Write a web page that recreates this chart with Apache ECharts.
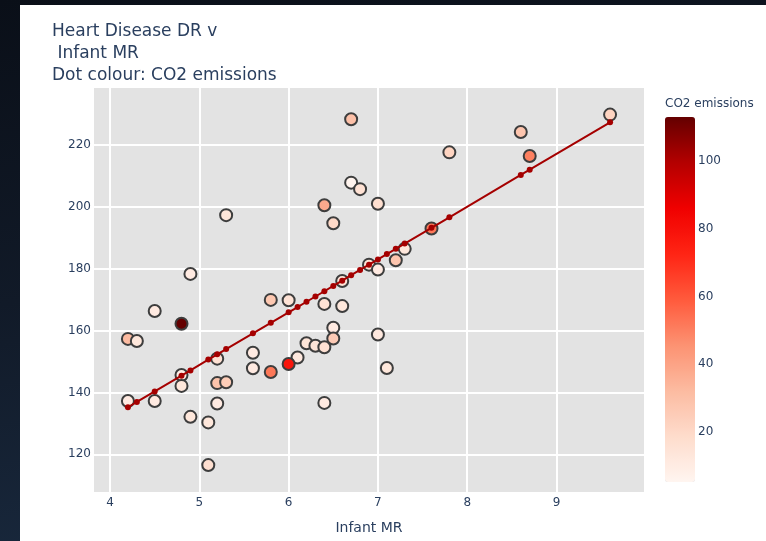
<!DOCTYPE html>
<html>
<head>
<meta charset="utf-8">
<script src="https://cdn.jsdelivr.net/npm/echarts@6/dist/echarts.min.js"></script>
<style>
  html, body { margin: 0; padding: 0; width: 766px; height: 541px; overflow: hidden; }
  body { background: linear-gradient(170deg, #0a0f18 0%, #111a28 45%, #1b2d44 100%); position: relative; }
  #panel { position: absolute; left: 20px; top: 5px; width: 746px; height: 536px; background: #ffffff; }
  #chart { position: absolute; left: 0; top: 0; width: 766px; height: 541px; }
</style>
</head>
<body>
<div id="panel"></div>
<div id="chart"></div>
<script>
// ---- data ----
const infantMR = [9.6, 8.6, 8.7, 7.8, 6.7, 6.7, 6.8, 6.4, 7.0, 6.5,
                  5.3, 4.9, 4.5, 4.8, 4.2, 4.3, 5.8, 6.0, 6.4, 6.6,
                  6.6, 6.9, 7.0, 7.2, 7.3, 7.6, 6.5, 6.5, 6.2, 6.3,
                  6.4, 6.1, 6.0, 7.0, 7.1, 6.4, 5.6, 5.6, 5.8, 5.2,
                  5.2, 5.3, 5.2, 4.8, 4.8, 4.2, 4.5, 4.9, 5.1, 5.1];
const heartDR = [229.8, 224.2, 216.4, 217.6, 228.3, 207.8, 205.7, 200.5, 201.0, 194.7,
                 197.3, 178.3, 166.3, 162.2, 157.3, 156.6, 169.9, 169.8, 168.6, 167.9,
                 176.0, 181.3, 179.7, 182.7, 186.4, 193.0, 160.9, 157.4, 155.9, 155.1,
                 154.6, 151.3, 149.2, 158.7, 147.9, 136.6, 152.8, 147.8, 146.6, 150.9,
                 143.0, 143.3, 136.4, 145.6, 142.1, 137.2, 137.2, 132.1, 130.3, 116.5];
const co2Emissions = [22, 28, 50, 22, 30, 6, 16, 38, 17, 20,
                      14, 11, 11, 113, 32, 13, 27, 15, 15, 13,
                      15, 15, 11, 28, 13, 52, 11, 26, 14, 14,
                      16, 12, 78, 12, 13, 11, 11, 11, 52, 16,
                      29, 25, 11, 9, 13, 11, 11, 13, 13, 17];
// fitted (trend) line, read at each distinct Infant MR value
const fitX = [4.2, 4.3, 4.5, 4.8, 4.9, 5.1, 5.2, 5.3, 5.6, 5.8,
              6.0, 6.1, 6.2, 6.3, 6.4, 6.5, 6.6, 6.7, 6.8, 6.9,
              7.0, 7.1, 7.2, 7.3, 7.6, 7.8, 8.6, 8.7, 9.6];
const fitY = [135.2, 136.9, 140.3, 145.4, 147.1, 150.6, 152.3, 154.0, 159.1, 162.5,
              165.9, 167.6, 169.3, 171.0, 172.7, 174.4, 176.1, 177.9, 179.6, 181.3,
              183.0, 184.7, 186.4, 188.1, 193.2, 196.6, 210.3, 212.0, 227.3];
const xTicks = [4, 5, 6, 7, 8, 9];
const yTicks = [120, 140, 160, 180, 200, 220];
const colorTicks = [20, 40, 60, 80, 100];

const font = '"DejaVu Sans", Verdana, sans-serif';
const txt = '#2a3f5f';

const scatterData = infantMR.map((x, i) => [x, heartDR[i], co2Emissions[i]]);
const fitData = fitX.map((x, i) => [x, fitY[i]]);

const chart = echarts.init(document.getElementById('chart'), null, { renderer: 'canvas' });
chart.setOption({
  backgroundColor: 'transparent',
  animation: false,
  title: [
    {
      text: 'Heart Disease DR v\n Infant MR\nDot colour: CO2 emissions',
      left: 52, top: 21, padding: 0,
      textStyle: { fontFamily: font, fontSize: 17, fontWeight: 'normal', color: txt, lineHeight: 22 }
    },
    {
      text: 'CO2 emissions',
      left: 665, top: 98, padding: 0,
      textStyle: { fontFamily: font, fontSize: 12, fontWeight: 'normal', color: txt }
    }
  ],
  grid: [
    { left: 94, top: 88, width: 550, height: 404, backgroundColor: '#e3e3e3', show: true, borderWidth: 0, outerBoundsMode: 'none', containLabel: false },
    { left: 665, top: 117, width: 30, height: 365, show: false, outerBoundsMode: 'none', containLabel: false }
  ],
  xAxis: [
    {
      type: 'value', gridIndex: 0, min: 3.82, max: 9.98,
      name: 'Infant MR', nameLocation: 'middle', nameGap: 29,
      nameTextStyle: { fontFamily: font, fontSize: 14, color: txt },
      axisLine: { show: false }, axisTick: { show: false, customValues: xTicks },
      axisLabel: { customValues: xTicks, fontFamily: font, fontSize: 12, color: txt, margin: 5 },
      splitLine: { show: true, lineStyle: { color: '#ffffff', width: 2 } }
    },
    { type: 'value', gridIndex: 1, show: false, min: 0, max: 1 }
  ],
  yAxis: [
    {
      type: 'value', gridIndex: 0, min: 107.8, max: 238.4,
      axisLine: { show: false }, axisTick: { show: false, customValues: yTicks },
      axisLabel: { customValues: yTicks, fontFamily: font, fontSize: 12, color: txt, margin: 3 },
      splitLine: { show: true, lineStyle: { color: '#ffffff', width: 2 } }
    },
    {
      type: 'value', gridIndex: 1, position: 'right', min: 5.2, max: 113,
      axisLine: { show: false }, axisTick: { show: false, customValues: colorTicks },
      axisLabel: { customValues: colorTicks, fontFamily: font, fontSize: 12, color: txt, margin: 3 },
      splitLine: { show: false }
    }
  ],
  visualMap: {
    type: 'continuous', seriesIndex: 0, dimension: 2,
    min: 5.2, max: 113, orient: 'vertical',
    left: 665, top: 117, itemWidth: 30, itemHeight: 365, padding: 0,
    calculable: false, hoverLink: false, showLabel: false, text: null,
    inRange: { color: ['#fff5f0', '#fedccc', '#fcbba1', '#fc9272', '#ff5a3c', '#ff2414', '#f00000', '#b40000', '#640000'] }
  },
  series: [
    {
      type: 'scatter', xAxisIndex: 0, yAxisIndex: 0,
      data: scatterData, symbol: 'circle', symbolSize: 12, z: 2,
      itemStyle: { borderColor: '#3d3d3d', borderWidth: 2, opacity: 1 },
      emphasis: { disabled: true }
    },
    {
      type: 'line', xAxisIndex: 0, yAxisIndex: 0,
      data: fitData, symbol: 'circle', symbolSize: 6, showSymbol: true, z: 3,
      lineStyle: { color: '#a50000', width: 2 },
      itemStyle: { color: '#a50000', borderWidth: 0 },
      emphasis: { disabled: true }
    }
  ]
});
</script>
</body>
</html>
